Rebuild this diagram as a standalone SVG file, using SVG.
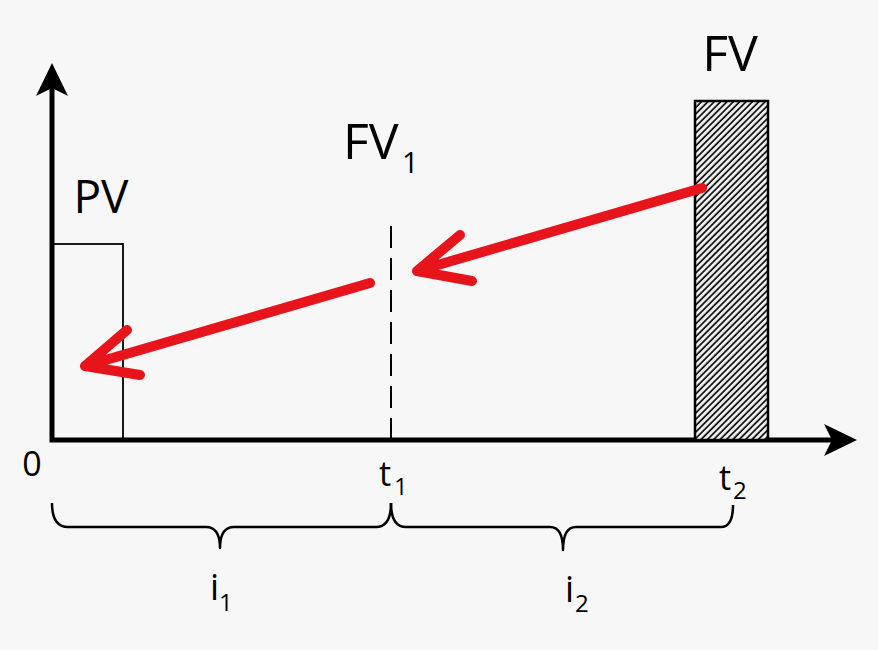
<svg xmlns="http://www.w3.org/2000/svg" width="878" height="650" viewBox="0 0 878 650">
<style>
.lbl{font-family:"Open Sans","Liberation Sans",sans-serif;fill:#000}
.big{font-size:50px}
.sm{font-size:34px}
.sub{font-size:24px}
.ax{fill:none;stroke:#000;stroke-width:5;stroke-linejoin:miter}
.red{fill:none;stroke:#e8141b;stroke-width:10;stroke-linecap:round;stroke-linejoin:round}
.brace{fill:none;stroke:#000;stroke-width:2.5;stroke-linejoin:round}
</style>
<defs>
<pattern id="hatch" patternUnits="userSpaceOnUse" width="4.5" height="4.5" patternTransform="rotate(45)">
<rect width="4.5" height="4.5" fill="#eeeeee"/>
<line x1="1" y1="0" x2="1" y2="4.5" stroke="#000" stroke-width="1.6"/>
</pattern>
</defs>
<rect width="878" height="650" fill="#f7f7f7"/>

<g id="axes">
<path class="ax" d="M52,88 L52,440 L834,440"/>
<path d="M52,63 L68,96 L52,88 L36,96 Z" fill="#000"/>
<path d="M857,440 L824,456 L832,440 L824,424 Z" fill="#000"/>
</g>

<g id="pv">
<rect x="52" y="244" width="71" height="196" fill="none" stroke="#000" stroke-width="1.8"/>
<text class="lbl" x="101" y="213" style="font-size:46px" text-anchor="middle">PV</text>
</g>

<g id="fv">
<rect x="695" y="101" width="73" height="339" fill="url(#hatch)" stroke="#000" stroke-width="2.5"/>
<text class="lbl big" x="730" y="71" text-anchor="middle">FV</text>
</g>

<g id="fv1">
<line x1="391" y1="226" x2="391" y2="440" stroke="#000" stroke-width="2" stroke-dasharray="22 10"/>
<text class="lbl big" x="343" y="159">FV</text>
<text class="lbl" x="402" y="173" style="font-size:29px">1</text>
</g>

<g id="ticks">
<text class="lbl sm" x="32" y="476" text-anchor="middle">0</text>
<text class="lbl sm" x="379" y="486">t</text>
<text class="lbl sub" x="394" y="495">1</text>
<text class="lbl sm" x="719" y="490">t</text>
<text class="lbl sub" x="733" y="499">2</text>
</g>

<g id="i1">
<path class="brace" d="M52,503 Q52,527 68,527 L206,527 Q220,527 220,548 Q220,527 234,527 L376,527 Q391,527 391,503"/>
<text class="lbl" x="210" y="600" style="font-size:36px">i</text>
<text class="lbl sub" x="219" y="611">1</text>
</g>

<g id="i2">
<path class="brace" d="M391,503 Q391,527 406,527 L550,527 Q563,527 563,550 Q563,527 576,527 L721,527 Q733,527 733,505"/>
<text class="lbl" x="565" y="602" style="font-size:36px">i</text>
<text class="lbl sub" x="575" y="612">2</text>
</g>

<g id="connectors">
<path class="red" d="M702,188 L417,271 M460,235 L417,271 L472,281"/>
<path class="red" d="M370,283 L85,366 M127,330 L85,366 L140,375"/>
</g>
</svg>
